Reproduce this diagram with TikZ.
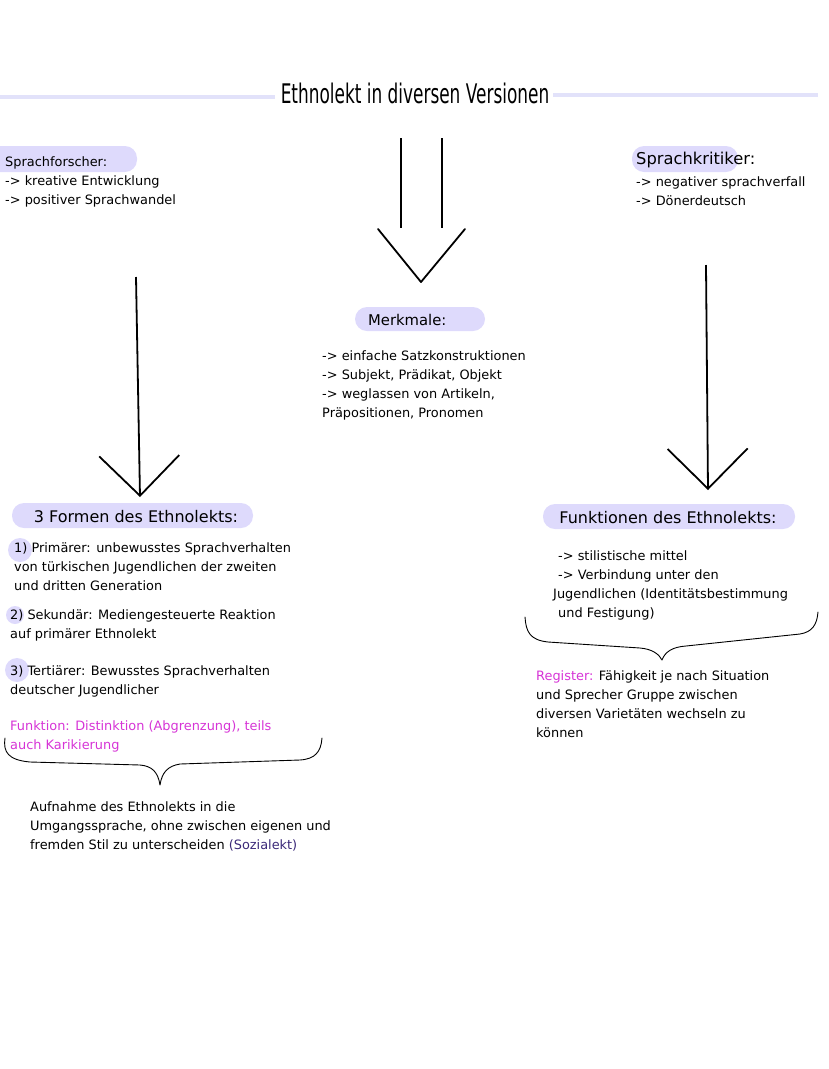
\documentclass[tikz,border=0pt]{standalone}
\usepackage{fontspec}
\setmainfont{DejaVu Sans}
\usetikzlibrary{arrows.meta,positioning}

\definecolor{lav}{RGB}{222,218,252}     % pill background
\definecolor{lavline}{RGB}{226,226,250} % title rule
\definecolor{pinkish}{RGB}{214,52,214}  % highlighted text
\definecolor{darkviolet}{RGB}{58,40,120}

\begin{document}
\begin{tikzpicture}[x=1pt,y=-1pt,
  txt/.style={anchor=north west, align=left, inner sep=0pt,
    font=\fontsize{12.9}{19}\selectfont},
  head/.style={inner sep=0pt, font=\fontsize{16}{19}\selectfont},
  bigarrow/.style={line width=1.8pt,
    -{Straight Barb[length=40pt,width=80pt,line width=1.8pt]}},
  bracepath/.style={line width=0.9pt, line cap=round, line join=round}]

\useasboundingbox (0,0) rectangle (828,1069);

% Title and rules
\node[inner sep=0pt] (title) at (415,93)
  {\scalebox{0.627}[1]{\fontsize{27}{27}\selectfont Ethnolekt in diversen Versionen}};
\draw[lavline, line width=4pt] (0,97) -- (275,97);
\draw[lavline, line width=4pt] (553,95) -- (818,95);

% Pills
\fill[lav, rounded corners=12pt] (-12,146) rectangle (137,172);
\fill[lav, rounded corners=12pt] (632,146) rectangle (738,172);
\fill[lav, rounded corners=12pt] (355,307) rectangle (485,331);
\fill[lav, rounded corners=12pt] (12,503) rectangle (253,528);
\fill[lav, rounded corners=12pt] (543,504) rectangle (795,529);
\fill[lav] (20,550) circle (12);
\fill[lav] (15,615) circle (9);
\fill[lav] (17,670) circle (12);

% Upper blocks
\node[txt] (forscher) at (5,156)
  {Sprachforscher:\\-> kreative Entwicklung\\-> positiver Sprachwandel};
\node[head, anchor=north west, font=\fontsize{16.3}{19}\selectfont] (kritiker) at (636,152) {Sprachkritiker:};
\node[txt] (kritikerliste) at (636,176)
  {-> negativer sprachverfall\\-> Dönerdeutsch};
\node[txt, font=\fontsize{14.8}{19}\selectfont] (merkmale) at (368,314) {Merkmale:};
\node[txt] (merkliste) at (322,350)
  {-> einfache Satzkonstruktionen\\-> Subjekt, Prädikat, Objekt\\
   -> weglassen von Artikeln,\\Präpositionen, Pronomen};

% Central double arrow
\coordinate (mtopl) at (401,138);
\coordinate (mtopr) at (442,138);
\coordinate (mbotl) at (401,228);
\coordinate (mbotr) at (442,228);
\coordinate (mtip) at (421,282);
\draw[line width=1.8pt] (mtopl) -- (mbotl);
\draw[line width=1.8pt] (mtopr) -- (mbotr);
\draw[line width=1.8pt, line cap=round, line join=round] (378,229) -- (mtip) -- (465,229);

% Side arrows
\coordinate (lstart) at (136,277);
\coordinate (lend) at (140,497);
\coordinate (rstart) at (706,265);
\coordinate (rend) at (708,490);
\draw[bigarrow] (lstart) -- (lend);
\draw[bigarrow] (rstart) -- (rend);

% Lower left
\node[head] (formen) at (136,517) {3 Formen des Ethnolekts:};
\node[txt] (primaer) at (14,542)
  {1) Primärer: unbewusstes Sprachverhalten\\von türkischen Jugendlichen der zweiten\\und dritten Generation};
\node[txt] (sekundaer) at (10,609)
  {2) Sekundär: Mediengesteuerte Reaktion\\auf primärer Ethnolekt};
\node[txt] (tertiaer) at (10,665)
  {3) Tertiärer: Bewusstes Sprachverhalten\\deutscher Jugendlicher};
\node[txt, text=pinkish] (funktion) at (10,720)
  {Funktion: Distinktion (Abgrenzung), teils\\auch Karikierung};
\draw[bracepath] (5,738) .. controls (3,752) and (8,760) .. (30,762)
  -- (140,765) .. controls (152,766) and (158,772) .. (160,785)
  .. controls (162,772) and (168,766) .. (180,764)
  -- (300,760) .. controls (315,759) and (321,752) .. (322,738);
\node[txt] (aufnahme) at (30,801)
  {Aufnahme des Ethnolekts in die\\Umgangssprache, ohne zwischen eigenen und\\
   fremden Stil zu unterscheiden \textcolor{darkviolet}{(Sozialekt)}};

% Lower right
\node[head] (funktionen) at (668,518) {Funktionen des Ethnolekts:};
\node[txt] (stil) at (553,550)
  {\hspace*{5pt}-> stilistische mittel\\\hspace*{5pt}-> Verbindung unter den\\
   Jugendlichen (Identitätsbestimmung\\\hspace*{5pt}und Festigung)};
\draw[bracepath] (525,617) .. controls (526,632) and (530,640) .. (548,642)
  -- (640,648) .. controls (652,649) and (659,654) .. (662,660)
  .. controls (665,652) and (672,647) .. (686,646)
  -- (800,634) .. controls (812,632) and (817,625) .. (818,612);
\node[txt] (register) at (536,670)
  {\textcolor{pinkish}{Register:} Fähigkeit je nach Situation\\und Sprecher Gruppe zwischen\\
   diversen Varietäten wechseln zu\\können};

\end{tikzpicture}
\end{document}
